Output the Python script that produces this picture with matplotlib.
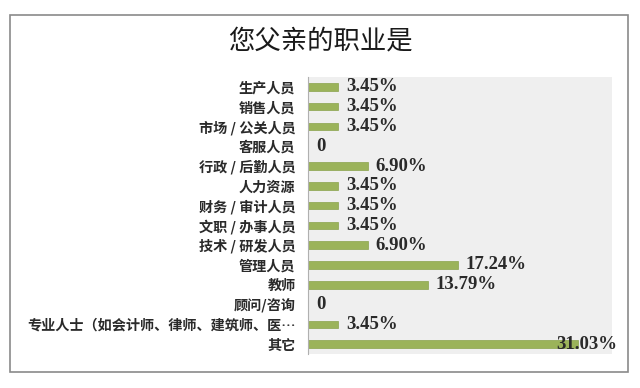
import matplotlib.pyplot as plt
from matplotlib.patches import Rectangle

plt.rcParams['font.family'] = ['Noto Sans CJK SC', 'DejaVu Sans']

categories = ['生产人员', '销售人员', '市场 / 公关人员', '客服人员', '行政 / 后勤人员',
              '人力资源', '财务 / 审计人员', '文职 / 办事人员', '技术 / 研发人员',
              '管理人员', '教师', '顾问/咨询',
              '专业人士（如会计师、律师、建筑师、医…', '其它']
values = [3.45, 3.45, 3.45, 0, 6.90, 3.45, 3.45, 3.45, 6.90, 17.24, 13.79, 0, 3.45, 31.03]
labels = ['0' if v == 0 else '%.2f%%' % v for v in values]

fig = plt.figure(figsize=(6.4, 3.88), dpi=100)
fig.patch.set_facecolor('white')

# outer frame
fig.add_artist(Rectangle((10/640, 1-372/388), 618/640, 357/388, transform=fig.transFigure,
                         fill=False, edgecolor='#8a8a8a', linewidth=1.2))

ax = fig.add_axes([308/640, 1-354/388, 304/640, 277/388])
ax.set_facecolor('#efefef')

y = list(range(len(categories)))
ax.barh(y, values, height=0.38, color='#9bb35a', edgecolor='#8aa34c', linewidth=0.5)
ax.set_ylim(len(categories) - 0.5, -0.5)
ax.set_xlim(0, 35)

for i, (v, lab) in enumerate(zip(values, labels)):
    x = v + 0.9
    if v > 30:
        x = v - 2.4
    ax.text(x, i, lab, va='center', ha='left', fontsize=13.5, fontweight='bold',
            family='Liberation Serif', color='#2a2a2a')

ax.set_yticks(y)
ax.set_yticklabels(categories, fontsize=10.2, color='#2a2a2a', fontweight='bold')
ax.tick_params(axis='y', length=0, pad=9)
ax.set_xticks([])
for s in ['top', 'right', 'bottom']:
    ax.spines[s].set_visible(False)
ax.spines['left'].set_color('#b0b0b0')
ax.spines['left'].set_linewidth(0.8)

fig.text(320/640, 1-41/388, '您父亲的职业是', ha='center', va='center', fontsize=19, color='#1a1a1a')

fig.savefig('out.png', dpi=100)
